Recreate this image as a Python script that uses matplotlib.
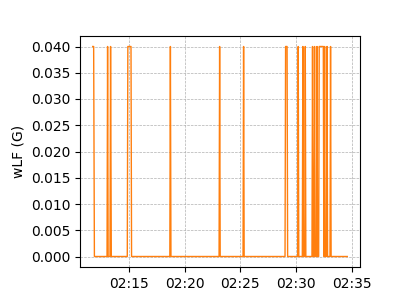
import matplotlib
matplotlib.use("Agg")
import matplotlib.pyplot as plt
import matplotlib.dates as mdates
import matplotlib.ticker as mticker
import pandas as pd

# wLF readings (G), step-like 0 / 0.04
times = [
    "02:11:46", "02:11:51", "02:11:55",
    "02:13:03", "02:13:06", "02:13:09",
    "02:13:19", "02:13:22", "02:13:26",
    "02:14:52", "02:14:55", "02:15:12", "02:15:15",
    "02:18:41", "02:18:44", "02:18:47",
    "02:23:06", "02:23:09", "02:23:12",
    "02:25:15", "02:25:18", "02:25:21",
    "02:29:01", "02:29:04", "02:29:12", "02:29:15",
    "02:30:09", "02:30:12", "02:30:15",
    "02:30:34", "02:30:37", "02:30:40",
    "02:30:47", "02:30:50", "02:30:53",
    "02:31:26", "02:31:29", "02:31:32",
    "02:31:37", "02:31:40", "02:31:43",
    "02:31:50", "02:31:53", "02:31:56",
    "02:32:02", "02:32:05", "02:32:27", "02:32:30",
    "02:32:31", "02:32:34", "02:32:37",
    "02:32:44", "02:32:47", "02:32:50",
    "02:33:03", "02:33:06", "02:33:09",
    "02:34:36",
]
values = [
    0.04, 0.04, 0.0,
    0.0, 0.04, 0.0,
    0.0, 0.04, 0.0,
    0.0, 0.04, 0.04, 0.0,
    0.0, 0.04, 0.0,
    0.0, 0.04, 0.0,
    0.0, 0.04, 0.0,
    0.0, 0.04, 0.04, 0.0,
    0.0, 0.04, 0.0,
    0.0, 0.04, 0.0,
    0.0, 0.04, 0.0,
    0.0, 0.04, 0.0,
    0.0, 0.04, 0.0,
    0.0, 0.04, 0.0,
    0.0, 0.04, 0.04, 0.0,
    0.0, 0.04, 0.0,
    0.0, 0.04, 0.0,
    0.0, 0.04, 0.0,
    0.0,
]

t = pd.to_datetime(["2021-01-01 " + s for s in times])

fig, ax = plt.subplots(figsize=(4, 3), dpi=100)
fig.subplots_adjust(left=0.2, right=0.9, top=0.88, bottom=0.11)

ax.plot(t, values, color="tab:orange", lw=1)
ax.set_ylabel("wLF (G)")
ax.grid(True, linestyle="--", linewidth=0.5, color="#b0b0b0")
ax.yaxis.set_major_locator(mticker.MultipleLocator(0.005))
ax.yaxis.set_major_formatter(mticker.FormatStrFormatter("%.3f"))
ax.xaxis.set_major_locator(mdates.MinuteLocator(byminute=range(0, 60, 5)))
ax.xaxis.set_major_formatter(mdates.DateFormatter("%H:%M"))

fig.savefig("out.png")
